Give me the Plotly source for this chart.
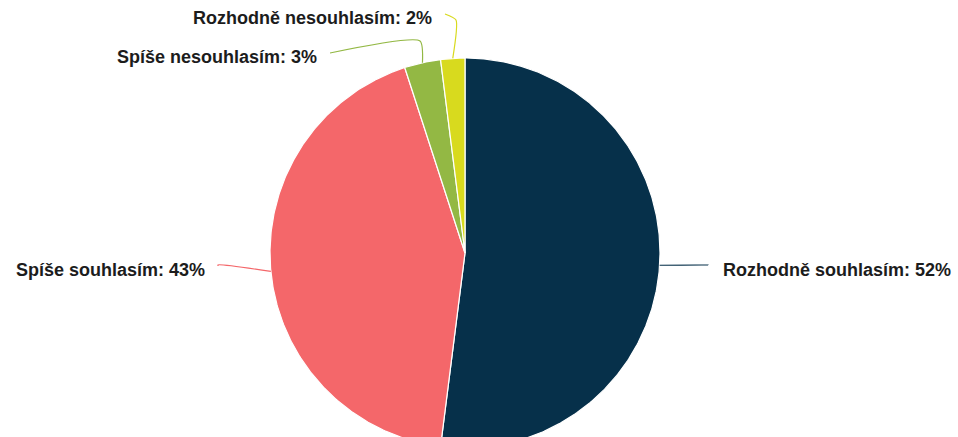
import numpy as np
import plotly.graph_objects as go

# Survey answers and their shares (%)
labels = ["Rozhodně souhlasím", "Spíše souhlasím", "Spíše nesouhlasím", "Rozhodně nesouhlasím"]
values = [52, 43, 3, 2]
colors = ["#06304a", "#f4676a", "#93b844", "#d8da1e"]

# Where each label sits (pixel space), its anchor and the bend of its leader line
label_pos = [(721, 270, "left"), (207, 270, "right"), (319, 57, "right"), (434, 18, "right")]
leader_bend = [(708, 265), (218, 265), (420, 41), (456, 20)]

W, H = 958, 437
CX, CY, R = 465, 253, 195

fig = go.Figure()

total = float(sum(values))
start = 0.0
mids = []
for lab, val, col in zip(labels, values, colors):
    span = 360.0 * val / total
    th = np.radians(np.linspace(start, start + span, max(int(span * 2), 4)))
    xs = np.concatenate([[CX], CX + R * np.sin(th), [CX]])
    ys = np.concatenate([[CY], CY - R * np.cos(th), [CY]])
    fig.add_trace(go.Scatter(
        x=xs, y=ys, mode="lines", fill="toself", fillcolor=col,
        line=dict(color="white", width=1.2), hoverinfo="text",
        text=f"{lab}: {val}%", showlegend=False,
    ))
    mids.append(np.radians(start + span / 2))
    start += span

# Leader lines and labels
for (lab, val, col), mid, (lx, ly, anchor), (bx, by) in zip(
        zip(labels, values, colors), mids, label_pos, leader_bend):
    ex, ey = CX + R * np.sin(mid), CY - R * np.cos(mid)
    if anchor == "left":
        end = (lx - 14, ly - 5)
    else:
        end = (lx + 11, ly - 4)
    fig.add_trace(go.Scatter(
        x=[ex, bx, end[0]], y=[ey, by, end[1]], mode="lines",
        line=dict(color=col, width=1.2, shape="spline", smoothing=0.6),
        hoverinfo="skip", showlegend=False,
    ))
    fig.add_annotation(
        x=lx, y=ly, xref="x", yref="y", text=f"<b>{lab}: {val}%</b>",
        showarrow=False, xanchor=anchor, yanchor="middle",
        font=dict(family="Liberation Sans, Arial, sans-serif", size=18, color="#1c1c1c"),
    )

fig.update_layout(
    width=W, height=H,
    margin=dict(l=0, r=0, t=0, b=0),
    paper_bgcolor="white", plot_bgcolor="white",
    xaxis=dict(range=[0, W], visible=False, fixedrange=True),
    yaxis=dict(range=[H, 0], visible=False, fixedrange=True),
)

fig.write_html("out.html")
